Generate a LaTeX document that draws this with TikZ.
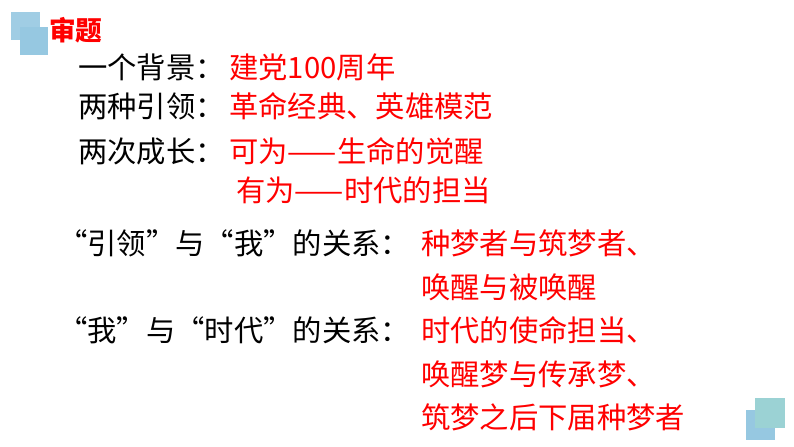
\documentclass[tikz,border=0pt]{standalone}
\usepackage{fontspec}
\setmainfont{Noto Sans CJK SC}
\definecolor{sqa}{RGB}{160,205,228}
\definecolor{sqb}{RGB}{150,200,225}
\definecolor{sqc}{RGB}{155,210,212}
\begin{document}
\begin{tikzpicture}[x=0.75pt,y=-0.75pt,
 t/.style={anchor=west,inner sep=0pt,font=\fontsize{22pt}{24pt}\selectfont},
 r/.style={t,text=red}]
\useasboundingbox (0,0) rectangle (794,447);
\fill[white] (0,0) rectangle (794,447);
\fill[sqa] (11,12) rectangle (40,40);
\fill[sqb] (20,27) rectangle (48,55);
\fill[sqb] (746,410) rectangle (775,440);
\fill[sqc] (755,398) rectangle (785,428);
\node[r,font=\fontsize{20pt}{22pt}\selectfont\bfseries] (h) at (49,30) {审题};
\node[t] (a1) at (78,67) {一个背景：};
\node[r] (b1) at (229,67) {建党100周年};
\node[t] (a2) at (78,106) {两种引领：};
\node[r] (b2) at (229,106) {革命经典、英雄模范};
\node[t] (a3) at (78,151) {两次成长：};
\node[r] (b3) at (229,151) {可为——生命的觉醒};
\node[r] (b4) at (236,190) {有为——时代的担当};
\node[t] (a5) at (58,243) {“引领”与“我”的关系：};
\node[r] (b5) at (421,243) {种梦者与筑梦者、};
\node[r] (b6) at (421,287) {唤醒与被唤醒};
\node[t] (a7) at (58,330) {“我”与“时代”的关系：};
\node[r] (b7) at (421,330) {时代的使命担当、};
\node[r] (b8) at (421,374) {唤醒梦与传承梦、};
\node[r] (b9) at (421,417) {筑梦之后下届种梦者};
\end{tikzpicture}
\end{document}
